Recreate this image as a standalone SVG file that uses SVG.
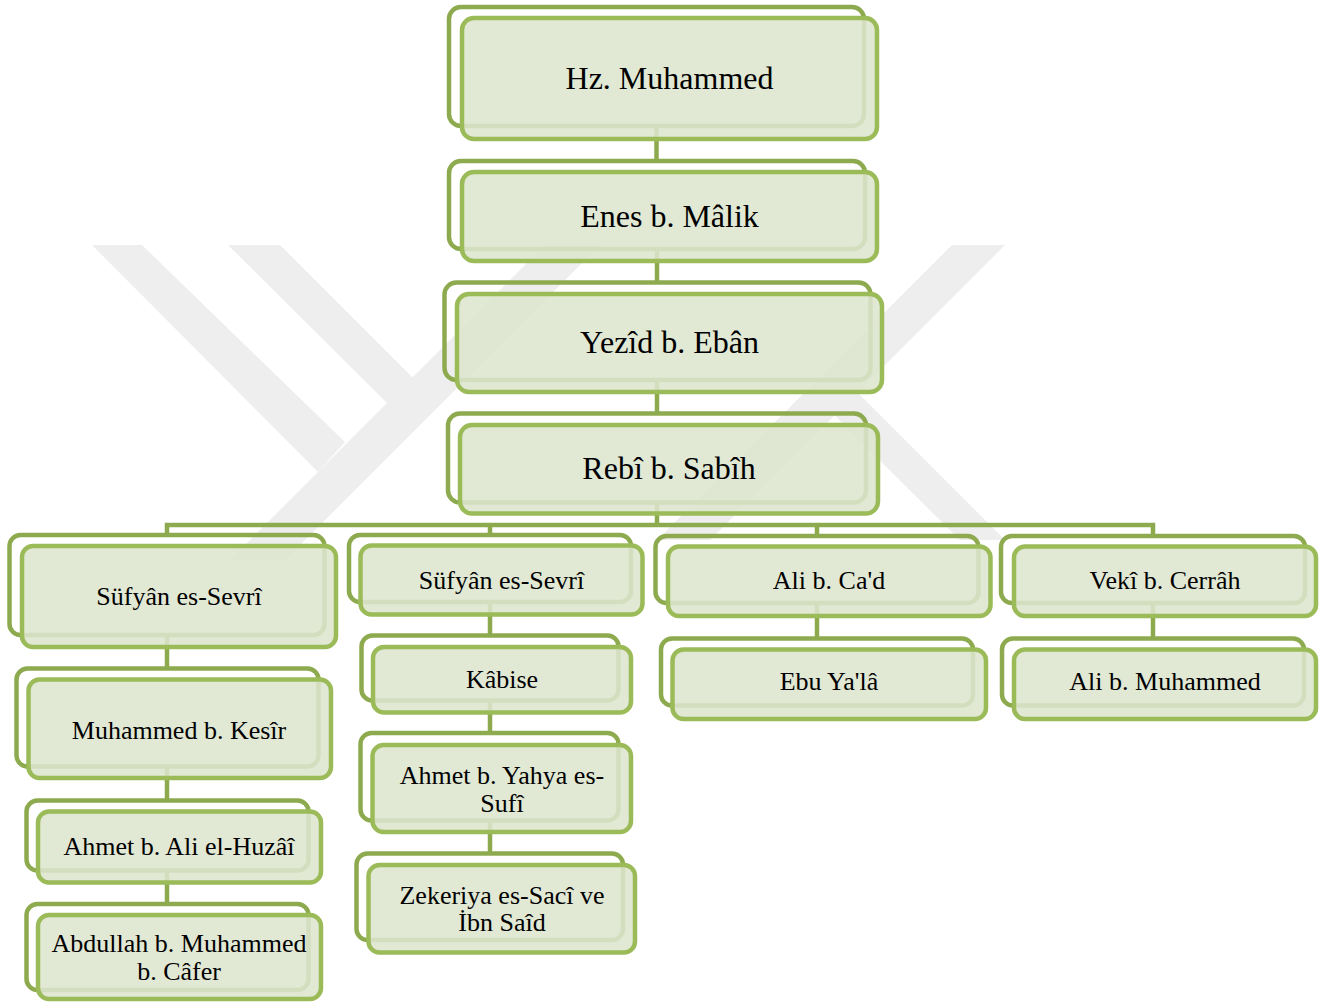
<svg xmlns="http://www.w3.org/2000/svg" width="1328" height="1003" viewBox="0 0 1328 1003">
<style>
.wm{fill:#eeeeee}
.bk{fill:none;stroke:#8eaa4f;stroke-width:4.5}
.fr{fill:#dde5ce;fill-opacity:0.88;stroke:#9bbb59;stroke-width:4.5}
.cn{fill:none;stroke:#8eaa4f;stroke-width:4.5}
.t1{font-family:"Liberation Serif","Times New Roman",serif;font-size:32px;fill:#000;text-anchor:middle}
.t2{font-family:"Liberation Serif","Times New Roman",serif;font-size:26px;fill:#000;text-anchor:middle}
</style>
<rect width="1328" height="1003" fill="#ffffff"/>
<g id="watermark">
<polygon class="wm" points="92,245 142,245 345,442 318,472"/>
<polygon class="wm" points="228,245 280,245 415,380 387,403"/>
<polygon class="wm" points="545,245 600,245 285,560 230,560"/>
<polygon class="wm" points="952,245 1005,245 710,540 657,540"/>
<polygon class="wm" points="808,389 831,366 1005,540 960,540"/>
</g>
<g id="connectors">
<path class="cn" d="M656.5 126V161"/>
<path class="cn" d="M657 249V282.5"/>
<path class="cn" d="M657 380V413.5"/>
<path class="cn" d="M657 502.5V525"/>
<path class="cn" d="M167 535V525H1153V536"/>
<path class="cn" d="M490 525V535"/>
<path class="cn" d="M817 525V536"/>
<path class="cn" d="M167 635V668.5M167 766.5V800.5M167 870.5V904"/>
<path class="cn" d="M490 602V635.5M490 700.5V733M490 820.5V853.5"/>
<path class="cn" d="M817 603V638.5"/>
<path class="cn" d="M1153 603V638.5"/>
</g>
<g id="n1"><rect class="bk" x="449" y="7" width="415" height="119" rx="12"/><rect class="fr" x="462" y="18" width="415" height="121" rx="12"/><text class="t1" x="669.5" y="89">Hz. Muhammed</text></g>
<g id="n2"><rect class="bk" x="449" y="161" width="416" height="88" rx="12"/><rect class="fr" x="462" y="172" width="415" height="89" rx="12"/><text class="t1" x="669.5" y="227">Enes b. Mâlik</text></g>
<g id="n3"><rect class="bk" x="444.5" y="282.5" width="426" height="97.5" rx="12"/><rect class="fr" x="457" y="294" width="425" height="98" rx="12"/><text class="t1" x="669.5" y="353">Yezîd b. Ebân</text></g>
<g id="n4"><rect class="bk" x="448" y="413.5" width="418" height="89" rx="12"/><rect class="fr" x="460" y="425" width="418" height="88.5" rx="12"/><text class="t1" x="669" y="479">Rebî b. Sabîh</text></g>
<g id="n5"><rect class="bk" x="9.5" y="535" width="315" height="100" rx="11"/><rect class="fr" x="22" y="546" width="314" height="101" rx="11"/><text class="t2" x="179" y="605">Süfyân es-Sevrî</text></g>
<g id="n6"><rect class="bk" x="349" y="535" width="282" height="67" rx="11"/><rect class="fr" x="360.5" y="545.5" width="282" height="69" rx="11"/><text class="t2" x="501.5" y="588.5">Süfyân es-Sevrî</text></g>
<g id="n7"><rect class="bk" x="361.5" y="635.5" width="257" height="65" rx="11"/><rect class="fr" x="373" y="647" width="258" height="65.5" rx="11"/><text class="t2" x="502" y="687.5">Kâbise</text></g>
<g id="n8"><rect class="bk" x="360.5" y="733" width="258" height="87.5" rx="11"/><rect class="fr" x="372.5" y="745" width="258.5" height="87" rx="11"/><text class="t2" x="502" y="783.5">Ahmet b. Yahya es-</text><text class="t2" x="502" y="811.5">Sufî</text></g>
<g id="n9"><rect class="bk" x="356.5" y="853.5" width="266.5" height="86.5" rx="11"/><rect class="fr" x="368.5" y="865" width="266.5" height="87.5" rx="11"/><text class="t2" x="502" y="904">Zekeriya es-Sacî ve</text><text class="t2" x="502" y="931">İbn Saîd</text></g>
<g id="n10"><rect class="bk" x="16.5" y="668.5" width="302" height="98" rx="11"/><rect class="fr" x="28.5" y="679.5" width="302.5" height="98.5" rx="11"/><text class="t2" x="179" y="738.5">Muhammed b. Kesîr</text></g>
<g id="n11"><rect class="bk" x="26.5" y="800.5" width="282" height="70" rx="11"/><rect class="fr" x="38" y="811.5" width="283" height="71" rx="11"/><text class="t2" x="179" y="854.5">Ahmet b. Ali el-Huzâî</text></g>
<g id="n12"><rect class="bk" x="26.5" y="904" width="282" height="86" rx="11"/><rect class="fr" x="38" y="915" width="283" height="84" rx="11"/><text class="t2" x="179" y="952">Abdullah b. Muhammed</text><text class="t2" x="179" y="979.5">b. Câfer</text></g>
<g id="n13"><rect class="bk" x="655.5" y="536" width="323" height="67" rx="11"/><rect class="fr" x="668" y="546.5" width="322.5" height="69.5" rx="11"/><text class="t2" x="829" y="589">Ali b. Ca'd</text></g>
<g id="n14"><rect class="bk" x="661" y="638.5" width="312" height="67" rx="11"/><rect class="fr" x="672.5" y="649.5" width="313.5" height="69.5" rx="11"/><text class="t2" x="829" y="690">Ebu Ya'lâ</text></g>
<g id="n15"><rect class="bk" x="1001" y="536" width="304" height="67" rx="11"/><rect class="fr" x="1014" y="546.5" width="302" height="69.5" rx="11"/><text class="t2" x="1165" y="589">Vekî b. Cerrâh</text></g>
<g id="n16"><rect class="bk" x="1002" y="638.5" width="302" height="67" rx="11"/><rect class="fr" x="1014" y="649.5" width="302" height="69.5" rx="11"/><text class="t2" x="1165" y="690">Ali b. Muhammed</text></g>
</svg>
